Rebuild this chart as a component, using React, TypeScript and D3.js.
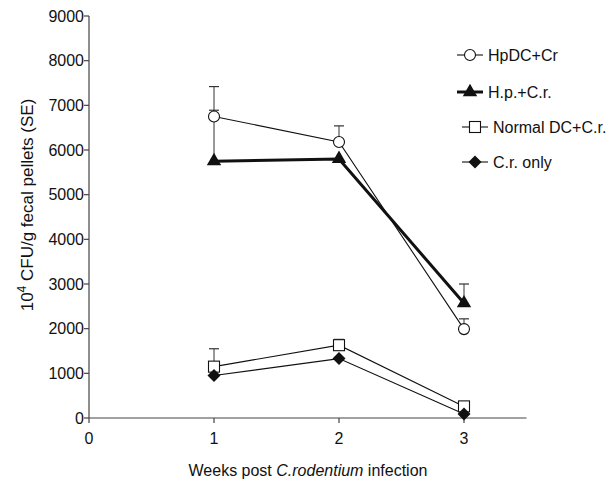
import React from "react";
import * as d3 from "d3";

const weeks = [1, 2, 3];
const hpdcCr = [6750, 6180, 1990];
const hpdcCrErr = [7420, 6540, 2220];
const hpCr = [5750, 5800, 2570];
const hpCrErr = [6890, 5800, 3000];
const normalDcCr = [1150, 1630, 260];
const normalDcCrErr = [1550, 1760, 300];
const crOnly = [950, 1330, 90];
const crOnlyErr = [950, 1330, 90];
const xTicks = [0, 1, 2, 3];
const yTicks = [0, 1000, 2000, 3000, 4000, 5000, 6000, 7000, 8000, 9000];
const seriesNames = ["HpDC+Cr", "H.p.+C.r.", "Normal DC+C.r.", "C.r. only"];

const W = 614, H = 489;
const x = d3.scaleLinear().domain([0, 3.5]).range([89, 526.5]);
const y = d3.scaleLinear().domain([0, 9000]).range([418, 16]);
const font = "'Liberation Sans', Arial, sans-serif";
const fs = 16;

type Series = { name: string; vals: number[]; err: number[]; marker: string; width: number };
const series: Series[] = [
  { name: seriesNames[0], vals: hpdcCr, err: hpdcCrErr, marker: "circle", width: 1.1 },
  { name: seriesNames[1], vals: hpCr, err: hpCrErr, marker: "triangle", width: 3 },
  { name: seriesNames[2], vals: normalDcCr, err: normalDcCrErr, marker: "square", width: 1.1 },
  { name: seriesNames[3], vals: crOnly, err: crOnlyErr, marker: "diamond", width: 1.1 },
];

function Marker({ kind, cx, cy }: { kind: string; cx: number; cy: number }) {
  if (kind === "circle") return <circle cx={cx} cy={cy} r={5.5} fill="#fff" stroke="#111" strokeWidth={1.1} />;
  if (kind === "square") return <rect x={cx - 5.5} y={cy - 5.5} width={11} height={11} fill="#fff" stroke="#111" strokeWidth={1.1} />;
  if (kind === "triangle") {
    const p = d3.symbol(d3.symbolTriangle, 90)() as string;
    return <path d={p} transform={`translate(${cx},${cy})`} fill="#111" />;
  }
  const r = 6.5;
  return <path d={`M0,${-r}L${r},0L0,${r}L${-r},0Z`} transform={`translate(${cx},${cy})`} fill="#111" />;
}

export default function App() {
  const line = d3.line<number>().x((_, i) => x(weeks[i])).y((v) => y(v));
  const legendY = [55, 92, 127, 162];
  return (
    <svg width={W} height={H} style={{ position: "absolute", left: 0, top: 0, background: "#fff" }}>
      <line x1={x(0)} x2={x(0)} y1={y(9000)} y2={y(0)} stroke="#444" strokeWidth={1.2} />
      <line x1={x(0)} x2={x(3.5)} y1={y(0)} y2={y(0)} stroke="#444" strokeWidth={1.2} />
      {yTicks.map((t) => (
        <g key={t}>
          <line x1={x(0) - 5} x2={x(0)} y1={y(t)} y2={y(t)} stroke="#444" strokeWidth={1.2} />
          <text x={x(0) - 5} y={y(t)} dy="0.35em" textAnchor="end" fontFamily={font} fontSize={fs} fill="#111">{t}</text>
        </g>
      ))}
      {xTicks.map((t) => (
        <g key={t}>
          <line x1={x(t)} x2={x(t)} y1={y(0)} y2={y(0) + 5} stroke="#444" strokeWidth={1.2} />
          <text x={x(t)} y={y(0) + 26} textAnchor="middle" fontFamily={font} fontSize={fs} fill="#111">{t}</text>
        </g>
      ))}
      <text transform={`translate(33,205) rotate(-90)`} textAnchor="middle" fontFamily={font} fontSize={17} fill="#111">
        10<tspan dy={-7} fontSize={12}>4</tspan><tspan dy={7}> CFU/g fecal pellets (SE)</tspan>
      </text>
      <text x={308} y={476} textAnchor="middle" fontFamily={font} fontSize={fs} fill="#111">
        Weeks post <tspan fontStyle="italic">C.rodentium</tspan> infection
      </text>
      {series.map((s) =>
        s.vals.map((v, i) =>
          s.err[i] > v ? (
            <g key={s.name + i}>
              <line x1={x(weeks[i])} x2={x(weeks[i])} y1={y(v)} y2={y(s.err[i])} stroke="#333" strokeWidth={1} />
              <line x1={x(weeks[i]) - 5} x2={x(weeks[i]) + 5} y1={y(s.err[i])} y2={y(s.err[i])} stroke="#333" strokeWidth={1.2} />
            </g>
          ) : null
        )
      )}
      {series.map((s) => (
        <path key={s.name} d={line(s.vals) as string} fill="none" stroke="#111" strokeWidth={s.width} />
      ))}
      {series.map((s) =>
        s.vals.map((v, i) => <Marker key={s.name + "m" + i} kind={s.marker} cx={x(weeks[i])} cy={y(v)} />)
      )}
      {series.map((s, i) => {
        const lx = i >= 2 ? 462 : 457;
        return (
          <g key={s.name + "leg"}>
            <line x1={lx} x2={lx + 26} y1={legendY[i]} y2={legendY[i]} stroke="#111" strokeWidth={s.width} />
            <Marker kind={s.marker} cx={lx + 13} cy={legendY[i]} />
            <text x={lx + 31} y={legendY[i]} dy="0.35em" fontFamily={font} fontSize={fs} fill="#111">{s.name}</text>
          </g>
        );
      })}
    </svg>
  );
}
